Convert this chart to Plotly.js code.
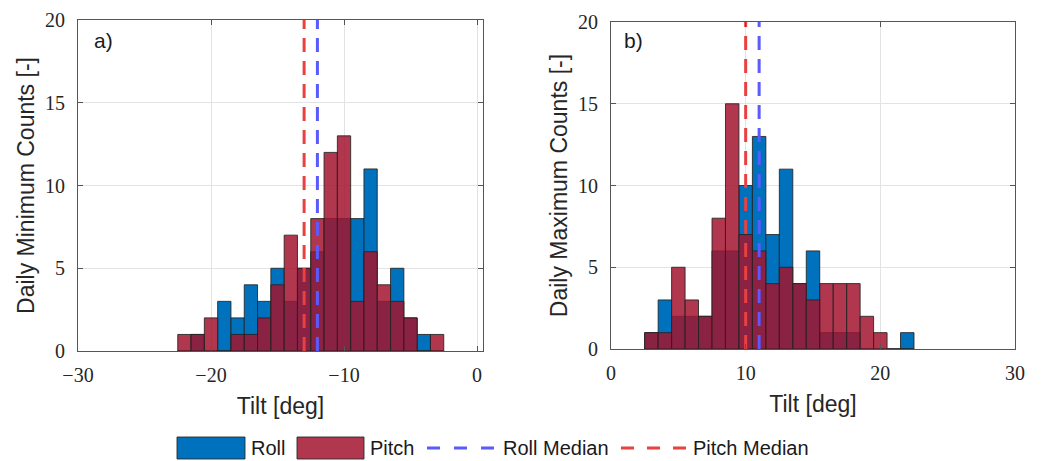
<!DOCTYPE html>
<html>
<head>
<meta charset="utf-8">
<script src="https://cdn.plot.ly/plotly-3.0.1.min.js"></script>
<style>html,body{margin:0;padding:0;background:#fff;}#chart{width:1043px;height:461px;}</style>
</head>
<body>
<div id="chart"></div>
<script>
// ---- data (counts per 1-degree bin, bins centred on integers) ----
const minBins   = [-22,-21,-20,-19,-18,-17,-16,-15,-14,-13,-12,-11,-10,-9,-8,-7,-6,-5,-4,-3];
const rollMin   = [0,1,0,3,2,4,3,5,3,5,6,8,8,8,11,3,5,2,1,0];
const pitchMin  = [1,1,2,0,1,1,2,4,7,5,8,12,13,3,6,4,3,2,0,1];
const maxBins   = [3,4,5,6,7,8,9,10,11,12,13,14,15,16,17,18,19,20,21,22];
const rollMax   = [1,3,2,2,2,6,6,10,13,7,11,4,6,1,1,1,0,0,0,1];
const pitchMax  = [1,1,5,3,2,8,15,7,6,4,5,4,3,4,4,4,2,1,0,0];
const rollMedianMin = -12, pitchMedianMin = -13;
const rollMedianMax = 11,  pitchMedianMax = 10;
const medianSpan = [0, 20];
const legendLabels = ['Roll', 'Pitch', 'Roll Median', 'Pitch Median'];
const panelLabels = ['a)', 'b)'];
const yTitles = ['Daily Minimum Counts [-]', 'Daily Maximum Counts [-]'];
const xTitle = 'Tilt [deg]';

// ---- styles ----
const ROLL = '#0072BD';
const PITCH = 'rgba(162,20,47,0.85)';
const EDGE = {color: 'rgba(35,35,35,0.85)', width: 1};
const RMED = '#5A5AFF';
const PMED = '#E8413F';
const SANS = '"Liberation Sans", Arial, sans-serif';
const SERIF = '"Liberation Serif", "Times New Roman", serif';
const W = 1043, H = 461;
const px = v => v / W;
const py = v => 1 - v / H;

function bars(x, y, color, xa, ya) {
  return {type: 'bar', x: x, y: y, width: 1, xaxis: xa, yaxis: ya,
    marker: {color: color, line: EDGE}, hoverinfo: 'x+y'};
}
function med(v, color, xa, ya) {
  return {type: 'scatter', mode: 'lines', x: [v, v], y: medianSpan, xaxis: xa, yaxis: ya,
    line: {color: color, width: 3, dash: '14px,9px'}, hoverinfo: 'x'};
}

const data = [
  bars(minBins, rollMin, ROLL, 'x', 'y'),
  bars(minBins, pitchMin, PITCH, 'x', 'y'),
  med(rollMedianMin, RMED, 'x', 'y'),
  med(pitchMedianMin, PMED, 'x', 'y'),
  bars(maxBins, rollMax, ROLL, 'x2', 'y2'),
  bars(maxBins, pitchMax, PITCH, 'x2', 'y2'),
  med(rollMedianMax, RMED, 'x2', 'y2'),
  med(pitchMedianMax, PMED, 'x2', 'y2')
];

function xax(domain, range, tickvals, anchor) {
  return {domain: domain, range: range, tickvals: tickvals, anchor: anchor,
    ticks: 'inside', ticklen: 5, tickcolor: '#555', tickwidth: 1,
    showline: true, linecolor: '#555', linewidth: 1, mirror: 'ticks',
    showgrid: true, gridcolor: '#e3e3e3', gridwidth: 1, zeroline: false,
    ticklabelstandoff: 6,
    tickfont: {family: SERIF, size: 20, color: '#262626'},
    title: {text: xTitle, font: {family: SANS, size: 23, color: '#262626'}, standoff: 12}};
}
function yax(domain, anchor, title) {
  return {domain: domain, range: [0, 20], tickvals: [0, 5, 10, 15, 20], anchor: anchor,
    ticks: 'inside', ticklen: 5, tickcolor: '#555', tickwidth: 1,
    showline: true, linecolor: '#555', linewidth: 1, mirror: 'ticks',
    showgrid: true, gridcolor: '#e3e3e3', gridwidth: 1, zeroline: false,
    ticklabelstandoff: 8,
    tickfont: {family: SERIF, size: 20, color: '#262626'},
    title: {text: title, font: {family: SANS, size: 23, color: '#262626'}, standoff: 3}};
}

// manual legend (MATLAB-style, below the panels)
const legY0 = py(459), legY1 = py(437), legYc = py(448);
const shapes = [
  {type: 'rect', xref: 'paper', yref: 'paper', x0: px(177), x1: px(245), y0: legY0, y1: legY1,
   fillcolor: ROLL, line: {color: 'rgba(35,35,35,0.85)', width: 1}},
  {type: 'rect', xref: 'paper', yref: 'paper', x0: px(297), x1: px(364), y0: legY0, y1: legY1,
   fillcolor: PITCH, line: {color: 'rgba(35,35,35,0.85)', width: 1}},
  {type: 'line', xref: 'paper', yref: 'paper', x0: px(427), x1: px(494), y0: legYc, y1: legYc,
   line: {color: RMED, width: 3, dash: '13px,14px'}},
  {type: 'line', xref: 'paper', yref: 'paper', x0: px(621), x1: px(687), y0: legYc, y1: legYc,
   line: {color: PMED, width: 3, dash: '13px,13px'}}
];
function lab(text, x, y, size) {
  return {text: text, xref: 'paper', yref: 'paper', x: px(x), y: y, xanchor: 'left', yanchor: 'middle',
    showarrow: false, font: {family: SANS, size: size, color: '#1a1a1a'}};
}
const annotations = [
  lab(legendLabels[0], 249, legYc, 20),
  lab(legendLabels[1], 368, legYc, 20),
  lab(legendLabels[2], 501, legYc, 20),
  lab(legendLabels[3], 691, legYc, 20),
  lab(panelLabels[0], 92, py(41), 21),
  lab(panelLabels[1], 622, py(41), 21)
];

const layout = {
  width: W, height: H,
  margin: {l: 0, r: 0, t: 0, b: 0},
  paper_bgcolor: '#ffffff', plot_bgcolor: '#ffffff',
  barmode: 'overlay', bargap: 0, showlegend: false,
  xaxis: xax([px(78), px(483)], [-30, 0.45], [-30, -20, -10, 0], 'y'),
  yaxis: yax([py(351), py(20)], 'x', yTitles[0]),
  xaxis2: xax([px(611), px(1015)], [0, 30], [0, 10, 20, 30], 'y2'),
  yaxis2: yax([py(349), py(22)], 'x2', yTitles[1]),
  shapes: shapes,
  annotations: annotations
};

Plotly.newPlot('chart', data, layout, {displayModeBar: false, staticPlot: true});
</script>
</body>
</html>
